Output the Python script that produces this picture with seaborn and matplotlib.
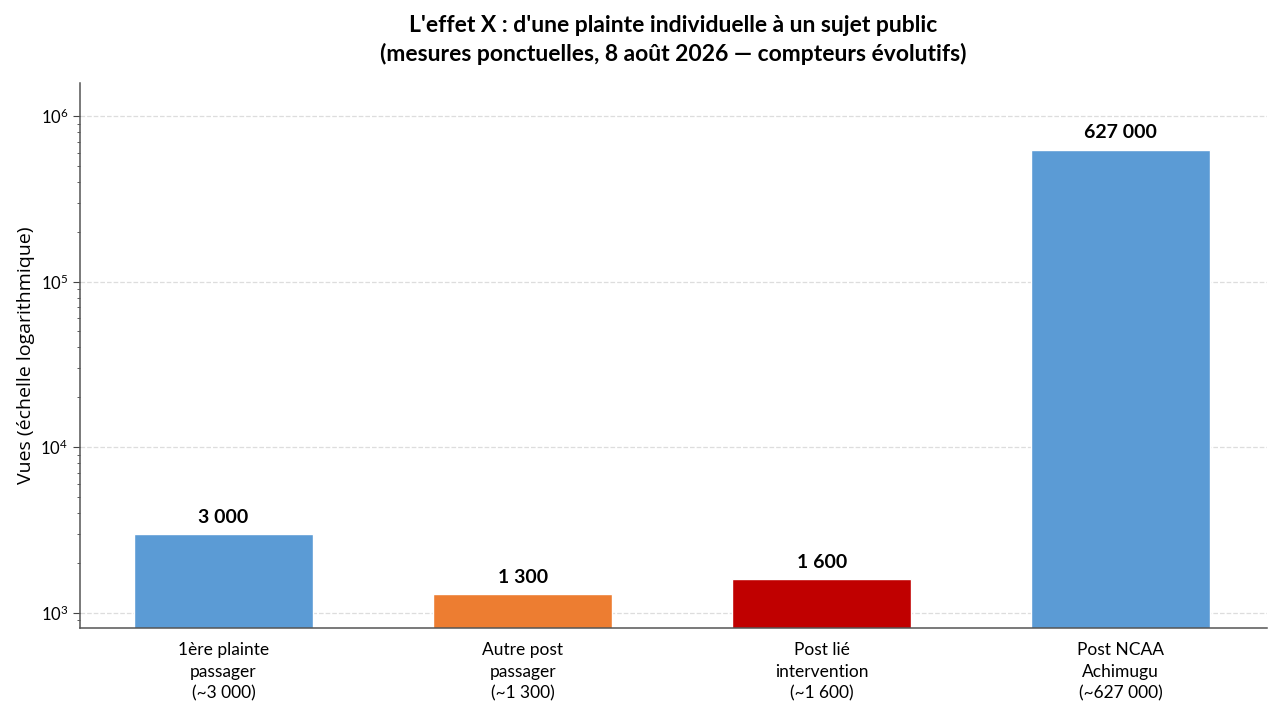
import pandas as pd
import numpy as np
import matplotlib
matplotlib.use("Agg")
import matplotlib.pyplot as plt
import seaborn as sns

categories = ["1ère plainte\npassager\n(~3\u202f000)",
              "Autre post\npassager\n(~1\u202f300)",
              "Post lié\nintervention\n(~1\u202f600)",
              "Post NCAA\nAchimugu\n(~627\u202f000)"]
views = [3000, 1300, 1600, 627000]
colors = ["#5B9BD5", "#ED7D31", "#C00000", "#5B9BD5"]

sns.set_style("white")
plt.rcParams['font.family'] = ['Lato', 'DejaVu Sans']
plt.rcParams['text.color'] = 'black'
plt.rcParams['axes.labelcolor'] = 'black'
plt.rcParams['xtick.color'] = 'black'
plt.rcParams['ytick.color'] = 'black'

df = pd.DataFrame({"cat": categories, "views": views})

fig, ax = plt.subplots(figsize=(12.8, 7.26), dpi=100)
sns.barplot(data=df, x="cat", y="views", hue="cat", palette=colors,
            width=0.6, legend=False, ax=ax, saturation=1)
ax.set_yscale("log")
ax.set_ylim(810, 1.57e6)
ax.set_xlim(-0.48, 3.49)

for i, v in enumerate(views):
    ax.text(i, v * 1.12, "{:,}".format(v).replace(",", "\u202f"),
            ha="center", va="bottom", fontsize=14, fontweight="bold",
            color="black")

ax.set_title("L'effet X : d'une plainte individuelle à un sujet public\n"
             "(mesures ponctuelles, 8 août 2026 \u2014 compteurs évolutifs)",
             fontsize=16.5, fontweight="bold", pad=16, linespacing=1.38,
             color="black")
ax.set_xlabel("")
ax.set_ylabel("Vues (échelle logarithmique)", fontsize=14,
              family=['Open Sans', 'DejaVu Sans'])
ax.yaxis.grid(True, which="major", linestyle="--", color="#dddddd", linewidth=0.9)
ax.set_axisbelow(True)
ax.tick_params(axis="x", labelsize=12.5, length=5, color="#444444", pad=5)
for lab in ax.get_xticklabels():
    lab.set_linespacing(1.45)
ax.tick_params(axis="y", which="major", labelsize=12, length=5, color="#444444", left=True)
ax.tick_params(axis="y", which="minor", length=2.5, color="#444444", left=True)
sns.despine(ax=ax)
for s in ["left", "bottom"]:
    ax.spines[s].set_color("#555555")
    ax.spines[s].set_linewidth(1.1)

fig.subplots_adjust(left=0.0625, right=0.99, top=0.885, bottom=0.135)
fig.savefig("out.png", dpi=100)
